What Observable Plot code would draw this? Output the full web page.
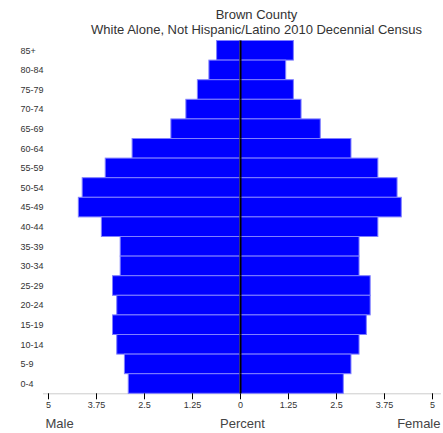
<!DOCTYPE html>
<html>
<head>
<meta charset="utf-8">
<script src="https://cdn.jsdelivr.net/npm/d3@7"></script>
<script src="https://cdn.jsdelivr.net/npm/@observablehq/plot@0.6"></script>
<style>
  html, body { margin: 0; padding: 0; background: #fff; }
  svg { display: block; }
</style>
</head>
<body>
<div id="chart"></div>
<script>
const ageGroups = ["85+","80-84","75-79","70-74","65-69","60-64","55-59","50-54","45-49","40-44","35-39","30-34","25-29","20-24","15-19","10-14","5-9","0-4"];
const malePct   = [0.61,0.81,1.11,1.41,1.80,2.81,3.51,4.11,4.21,3.61,3.12,3.12,3.32,3.21,3.32,3.21,3.01,2.91];
const femalePct = [1.39,1.19,1.39,1.59,2.09,2.89,3.59,4.09,4.20,3.59,3.10,3.10,3.39,3.39,3.29,3.10,2.89,2.69];
const xTicks = [-5,-3.75,-2.5,-1.25,0,1.25,2.5,3.75,5];
const titleText = "Brown County";
const subtitleText = "White Alone, Not Hispanic/Latino 2010 Decennial Census";

const rows = [];
ageGroups.forEach((a, i) => {
  rows.push({age: a, sex: "Male", x1: -malePct[i], x2: 0});
  rows.push({age: a, sex: "Female", x1: 0, x2: femalePct[i]});
});

const font = "'Liberation Sans', Arial, sans-serif";

const chart = Plot.plot({
  width: 443,
  height: 433,
  marginTop: 40.5,
  marginBottom: 39.7,
  marginLeft: 48,
  marginRight: 11,
  style: {fontFamily: font, background: "#fff"},
  x: {domain: [-5, 5]},
  y: {domain: ageGroups, padding: 0, round: false},
  marks: [
    Plot.frame({anchor: "bottom", stroke: "#cccccc", insetLeft: -5, insetRight: -8}),
    Plot.barX(rows, {y: "age", x1: "x1", x2: "x2", fill: "#0000ff", stroke: "#8080ff", strokeWidth: 1}),
    Plot.tickX(ageGroups, {x: () => 0, y: d => d, stroke: "#000", strokeWidth: 2}),
    Plot.axisX({ticks: xTicks, tickSize: 6, tickPadding: 2, tickFormat: d => String(Math.abs(d)), fontSize: 9, fill: "#333", stroke: "#000", label: null}),
    Plot.axisY({tickSize: 0, tickPadding: 0, textAnchor: "start", dx: -28, fontSize: 9, fill: "#333", label: null}),
    Plot.text([titleText], {frameAnchor: "top", lineAnchor: "middle", dx: 16, dy: -26, fontSize: 13, fill: "#333", fontFamily: font}),
    Plot.text([subtitleText], {frameAnchor: "top", lineAnchor: "middle", dx: 16, dy: -11, fontSize: 13, fill: "#333", fontFamily: font}),
    Plot.text(["Male"], {frameAnchor: "bottom-left", lineAnchor: "middle", textAnchor: "start", dx: -3, dy: 30, fontSize: 13, fill: "#444", fontFamily: font}),
    Plot.text(["Percent"], {frameAnchor: "bottom", lineAnchor: "middle", dx: 2, dy: 30, fontSize: 13, fill: "#444", fontFamily: font}),
    Plot.text(["Female"], {frameAnchor: "bottom-right", lineAnchor: "middle", textAnchor: "end", dx: 8, dy: 30, fontSize: 13, fill: "#444", fontFamily: font})
  ]
});
document.getElementById("chart").appendChild(chart);
</script>
</body>
</html>
